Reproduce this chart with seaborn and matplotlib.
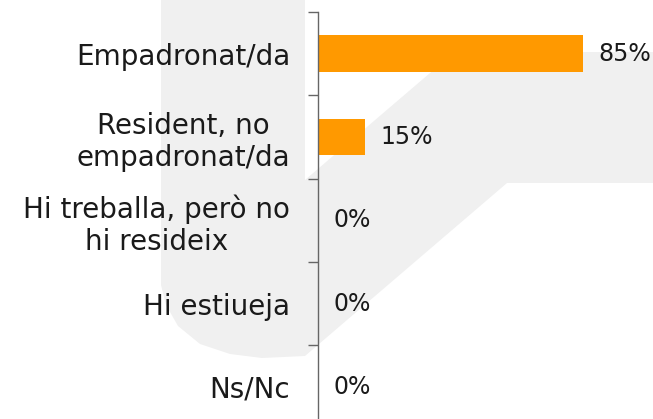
import matplotlib
matplotlib.use("Agg")
import matplotlib.pyplot as plt
from matplotlib.patches import Polygon
from matplotlib.ticker import FixedLocator, NullLocator
import seaborn as sns
import pandas as pd

categories = ["Empadronat/da", "Resident, no\nempadronat/da",
              "Hi treballa, però no\nhi resideix", "Hi estiueja", "Ns/Nc"]
values = [85, 15, 0, 0, 0]
value_labels = ["85%", "15%", "0%", "0%", "0%"]

sns.set_theme(style="white")
plt.rcParams['font.family'] = ['DejaVu Sans']

W, H = 653, 419
fig = plt.figure(figsize=(W / 100, H / 100), dpi=100)
fig.patch.set_facecolor("white")

# faint background watermark (decoration) in a background axes
bg = fig.add_axes([0, 0, 1, 1], zorder=-10)
bg.set_xlim(0, W)
bg.set_ylim(H, 0)
bg.axis("off")
pts = [(161, 0), (305, 0), (305, 180), (430, 73), (458, 52), (653, 52),
       (653, 183), (507, 183), (305, 356), (262, 358), (230, 354),
       (200, 344), (178, 326), (166, 305), (161, 285)]
bg.add_patch(Polygon(pts, closed=True, facecolor="#f0f0f0", edgecolor="none"))

ax_top, cat_h = 12, 83.3
ax = fig.add_axes([318 / W, (H - (ax_top + 5 * cat_h)) / H, 312 / W, 5 * cat_h / H], zorder=1)
ax.patch.set_alpha(0)

df = pd.DataFrame({"cat": categories, "val": values})
sns.barplot(data=df, y="cat", x="val", orient="h", color="#FF9900",
            saturation=1, width=0.44, linewidth=0, ax=ax)

ax.set_xlim(0, 100)
ax.set_ylim(4.5, -0.5)
ax.set_xlabel("")
ax.set_ylabel("")
ax.xaxis.set_major_locator(NullLocator())
for s in ["top", "right", "bottom"]:
    ax.spines[s].set_visible(False)
ax.spines["left"].set_color("#666666")
ax.spines["left"].set_linewidth(1.0)

ax.yaxis.set_minor_locator(FixedLocator([-0.5, 0.5, 1.5, 2.5, 3.5]))
ax.tick_params(axis="y", which="minor", length=7.5, width=1.0, color="#666666", left=True)
ax.tick_params(axis="y", which="major", length=0, pad=20, labelsize=20, labelcolor="#1a1a1a")
for lab in ax.get_yticklabels():
    lab.set_multialignment("center")
    lab.set_linespacing(1.2)

for i, (v, t) in enumerate(zip(values, value_labels)):
    ax.annotate(t, xy=(v, i), xytext=(11, 0), textcoords="offset points",
                ha="left", va="center", fontsize=17, color="#1a1a1a")

fig.savefig("out.png", dpi=100)
